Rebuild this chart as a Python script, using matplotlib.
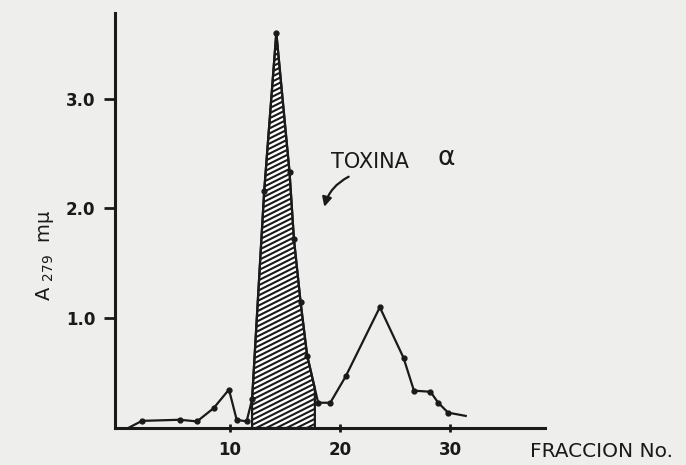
import numpy as np
import matplotlib.pyplot as plt
from matplotlib.patches import Polygon

# Data
fraction = [0.75, 2.0, 5.45, 7.0, 8.5, 9.9, 10.6, 11.5, 12.0, 13.1, 14.2, 15.4,
            15.8, 16.4, 17.0, 18.0, 19.1, 20.5, 23.6, 25.75, 26.7, 28.2, 28.9,
            29.8, 31.4]
absorbance = [0.0, 0.065, 0.075, 0.06, 0.18, 0.35, 0.075, 0.06, 0.26, 2.16, 3.6,
              2.33, 1.72, 1.15, 0.66, 0.23, 0.23, 0.47, 1.10, 0.64, 0.34, 0.33,
              0.23, 0.14, 0.11]
shade_start, shade_end = 12.0, 17.7
xticks = [10, 20, 30]
xticklabels = ["10", "20", "30"]
yticks = [1.0, 2.0, 3.0]
yticklabels = ["1.0", "2.0", "3.0"]

paper = "#eeeeec"
ink = "#1a1a1a"

fig = plt.figure(figsize=(6.86, 4.65), dpi=100, facecolor=paper)
ax = fig.add_axes([115/686, 37/465, 430/686, 415/465], facecolor=paper)

x = np.array(fraction)
y = np.array(absorbance)

# shaded (hatched) toxin peak
mask = (x >= shade_start) & (x <= shade_end)
xs = np.concatenate([[shade_start], x[mask], [shade_end]])
ys = np.concatenate([[np.interp(shade_start, x, y)], y[mask], [np.interp(shade_end, x, y)]])
poly_pts = np.column_stack([np.concatenate([xs, [shade_end, shade_start]]),
                            np.concatenate([ys, [0, 0]])])
poly = Polygon(poly_pts, closed=True, facecolor="white", edgecolor=ink, lw=1.6, zorder=2)
ax.add_patch(poly)
# hatch lines (shallow slope)
slope = 0.05
for c in np.arange(-0.8, 3.8, 0.046):
    hx = np.array([shade_start - 1, shade_end + 1])
    ln, = ax.plot(hx, c + slope * (hx - shade_start), color=ink, lw=1.5, zorder=3)
    ln.set_clip_path(poly)

ax.plot(x, y, color=ink, lw=1.6, marker="o", ms=3.5,
        markevery=list(range(1, len(x) - 1)), zorder=4)

ax.set_xlim(-0.45, 38.6)
ax.set_ylim(0, 3.78)

for s in ["top", "right"]:
    ax.spines[s].set_visible(False)
for s in ["left", "bottom"]:
    ax.spines[s].set_linewidth(2.2)
    ax.spines[s].set_color(ink)

ax.set_xticks(xticks)
ax.set_xticklabels(xticklabels, fontsize=12, color=ink)
ax.set_yticks(yticks)
ax.set_yticklabels(yticklabels, fontsize=12, color=ink, fontweight="bold")
ax.tick_params(axis="x", direction="inout", length=6, width=2, color=ink, pad=6)
ax.tick_params(axis="y", direction="out", length=8, width=2, color=ink, pad=6)
for lab in ax.get_xticklabels():
    lab.set_fontweight("bold")

fig.text(45/686, 1 - 255/465, r"A $_{\rm 279}$  m$\mathrm{\mu}$", rotation=90,
         fontsize=14, color=ink, ha="center", va="center")

fig.text(530/686, 1 - 457/465, "FRACCION No.", fontsize=14.5, color=ink,
         ha="left", va="baseline")

ax.text(19.2, 2.37, "TOXINA", fontsize=15, color=ink, ha="left", va="baseline")
ax.text(28.8, 2.40, "α", fontsize=19, color=ink, ha="left", va="baseline")
ax.annotate("", xy=(18.5, 1.99), xytext=(21.0, 2.30),
            arrowprops=dict(arrowstyle="-|>", color=ink, lw=1.6,
                            connectionstyle="arc3,rad=0.25", mutation_scale=14))

fig.savefig("out.png", dpi=100, facecolor=paper)
